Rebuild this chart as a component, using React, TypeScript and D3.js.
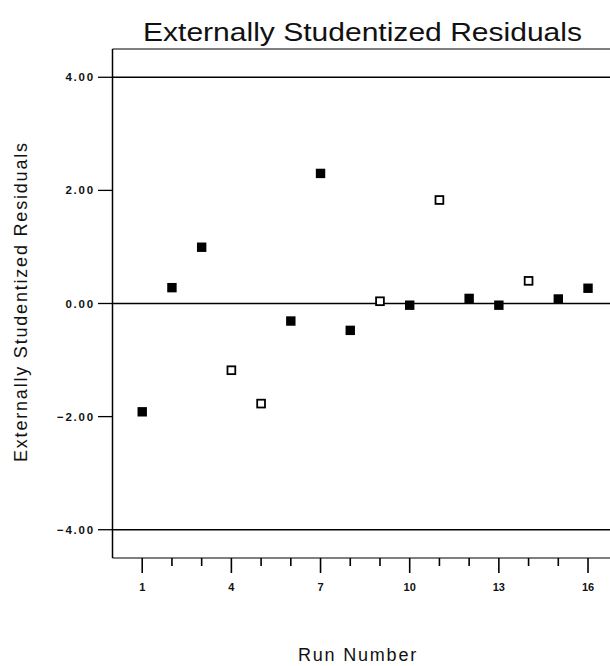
import React from "react";
import * as d3 from "d3";

const runs = [1, 2, 3, 4, 5, 6, 7, 8, 9, 10, 11, 12, 13, 14, 15, 16];
const residuals = [-1.915, 0.28, 0.995, -1.18, -1.77, -0.31, 2.30, -0.475, 0.04, -0.03, 1.83, 0.09, -0.03, 0.40, 0.08, 0.27];
const hollow = [false, false, false, true, true, false, false, false, true, false, true, false, false, true, false, false];
const yTicks = [4, 2, 0, -2, -4];
const yRefLines = [4, 0, -4];
const xLabeled = [1, 4, 7, 10, 13, 16];

const W = 610;
const H = 666;
const FONT = "'Liberation Sans', Arial, sans-serif";

export default function App() {
  const left = 112.5;
  const unit = 29.72;
  const x = d3.scaleLinear().domain([0, 17]).range([left, left + 17 * unit]);
  const y = d3.scaleLinear().domain([-4.5, 4.5]).range([558, 49]);
  const top = y(4.5);
  const bottom = y(-4.5);

  return (
    <svg width={W} height={H} style={{ position: "absolute", left: 0, top: 0, background: "#fff" }}>
      <rect x={0} y={0} width={W} height={H} fill="#fff" />
      {/* title */}
      <text x={362.5} y={41} textAnchor="middle" fontFamily={FONT} fontSize={25.5} fill="#111"
        textLength={439} lengthAdjust="spacingAndGlyphs">Externally Studentized Residuals</text>

      {/* frame */}
      <line x1={left} x2={left} y1={top} y2={bottom} stroke="#000" strokeWidth={1.5} />
      <line x1={left} x2={W} y1={top} y2={top} stroke="#000" strokeWidth={1.2} />
      <line x1={left} x2={W} y1={bottom} y2={bottom} stroke="#000" strokeWidth={1.2} />

      {/* reference lines */}
      {yRefLines.map((v) => (
        <line key={"r" + v} x1={left} x2={W} y1={y(v)} y2={y(v)} stroke="#000" strokeWidth={1.4} />
      ))}

      {/* y ticks */}
      {yTicks.map((v) => (
        <g key={"yt" + v}>
          <line x1={98} x2={left} y1={y(v)} y2={y(v)} stroke="#000" strokeWidth={1.3} />
          <text x={95} y={y(v) + 4} textAnchor="end" fontFamily={FONT} fontSize={11.5} fontWeight="bold" fill="#111"
            letterSpacing={1.8}>
            {d3.format(".2f")(v)}
          </text>
        </g>
      ))}

      {/* x ticks */}
      {runs.map((r) => {
        const major = xLabeled.includes(r);
        return (
          <line key={"xt" + r} x1={x(r)} x2={x(r)} y1={bottom} y2={bottom + (major ? 15 : 8)} stroke="#000" strokeWidth={1.6} />
        );
      })}
      {xLabeled.map((r) => (
        <text key={"xl" + r} x={x(r)} y={591} textAnchor="middle" fontFamily={FONT} fontSize={11} fontWeight="bold" fill="#111">
          {r}
        </text>
      ))}

      {/* points */}
      {runs.map((r, i) =>
        hollow[i] ? (
          <rect key={"p" + r} x={x(r) - 3.9} y={y(residuals[i]) - 3.9} width={7.8} height={7.8} fill="#fff" stroke="#000" strokeWidth={1.8} />
        ) : (
          <rect key={"p" + r} x={x(r) - 4.7} y={y(residuals[i]) - 4.7} width={9.4} height={9.4} fill="#000" />
        )
      )}

      {/* axis labels */}
      <text transform={`translate(27,${302.5}) rotate(-90)`} textAnchor="middle" fontFamily={FONT} fontSize={18} fill="#111"
        textLength={319} lengthAdjust="spacing">
        Externally Studentized Residuals
      </text>
      <text x={358} y={661} textAnchor="middle" fontFamily={FONT} fontSize={18} fill="#111" letterSpacing={1.8}>
        Run Number
      </text>
    </svg>
  );
}
